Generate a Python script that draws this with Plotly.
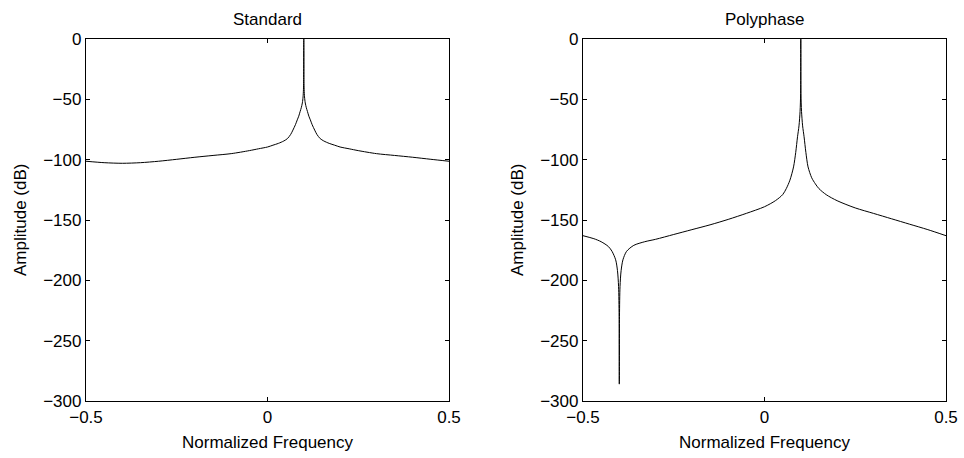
import plotly.graph_objects as go

# ---- data ----
freq_std = [-0.5, -0.45, -0.4, -0.35, -0.3, -0.25, -0.2, -0.15, -0.1, -0.05, -0.025,
            0.0, 0.015, 0.03, 0.045, 0.055, 0.064, 0.07, 0.077, 0.082, 0.086, 0.09,
            0.093, 0.096, 0.098, 0.099, 0.0995, 0.1,
            0.1005, 0.101, 0.102, 0.104, 0.107, 0.11, 0.114, 0.118, 0.123, 0.13,
            0.136, 0.145, 0.155, 0.17, 0.185, 0.2, 0.225, 0.25, 0.3, 0.35, 0.4,
            0.45, 0.5]
amp_std = [-101.3, -102.5, -103.0, -102.5, -101.3, -99.7, -98.0, -96.5, -95.0, -92.5, -91.0,
           -89.5, -88.0, -86.5, -84.5, -82.5, -79.0, -75.5, -71.0, -67.0, -64.0, -60.0,
           -57.0, -53.0, -48.0, -42.0, -35.0, 0.0,
           -35.0, -42.0, -48.0, -53.0, -57.0, -60.0, -64.0, -67.0, -71.0, -75.5,
           -79.0, -82.5, -84.5, -86.5, -88.0, -89.5, -91.0, -92.5, -95.0, -96.5, -98.0,
           -99.7, -101.3]

freq_poly = [-0.5, -0.47, -0.45, -0.43, -0.42, -0.41, -0.405, -0.402, -0.4005, -0.4,
             -0.3995, -0.398, -0.395, -0.39, -0.38, -0.36, -0.33, -0.3, -0.25, -0.2,
             -0.15, -0.1, -0.05, 0.0, 0.03, 0.05, 0.06, 0.07, 0.08, 0.086, 0.091,
             0.095, 0.098, 0.0995, 0.1, 0.1005, 0.102, 0.105, 0.109, 0.114, 0.12,
             0.13, 0.14, 0.15, 0.17, 0.2, 0.25, 0.3, 0.35, 0.4, 0.45, 0.5]
amp_poly = [-163.0, -165.5, -168.0, -172.0, -176.0, -183.0, -192.0, -205.0, -230.0, -286.0,
            -230.0, -205.0, -192.0, -183.0, -176.0, -171.0, -168.0, -166.0, -162.0, -158.0,
            -154.0, -149.5, -144.5, -139.0, -134.0, -129.0, -124.0, -117.0, -106.0, -94.0, -81.0,
            -72.0, -60.0, -45.0, 0.0, -45.0, -60.0, -72.0, -81.0, -94.0, -106.0,
            -115.0, -120.0, -124.0, -129.0, -134.0, -140.0, -144.5, -149.0, -153.5, -158.0, -163.0]

x_ticks = [-0.5, 0, 0.5]
x_labels = ["\u22120.5", "0", "0.5"]
y_ticks = [0, -50, -100, -150, -200, -250, -300]
y_labels = ["0", "\u221250", "\u2212100", "\u2212150", "\u2212200", "\u2212250", "\u2212300"]

titles = ["Standard", "Polyphase"]
xlabel = "Normalized Frequency"
ylabel = "Amplitude (dB)"

FONT = "Liberation Sans, Arial, Helvetica, sans-serif"
FS = 17

fig = go.Figure()
fig.add_trace(go.Scatter(x=freq_std, y=amp_std, mode="lines",
                         line=dict(color="black", width=1, shape="spline", smoothing=0.8),
                         xaxis="x", yaxis="y", showlegend=False))
fig.add_trace(go.Scatter(x=freq_poly, y=amp_poly, mode="lines",
                         line=dict(color="black", width=1, shape="spline", smoothing=0.8),
                         xaxis="x2", yaxis="y2", showlegend=False))

W, H = 964, 458
doms_x = [(86 / W, 449 / W), (583 / W, 946 / W)]
dom_y = ((H - 401) / H, (H - 39) / H)

ax_common = dict(showgrid=False, zeroline=False, showline=True, linecolor="black",
                 linewidth=1.3, mirror="allticks", ticks="inside", ticklen=4,
                 tickcolor="black", tickwidth=1, automargin=False,
                 tickfont=dict(family=FONT, size=FS, color="black"))

layout = dict(template="none", width=W, height=H,
              margin=dict(l=0, r=0, t=0, b=0, pad=0, autoexpand=False),
              paper_bgcolor="white", plot_bgcolor="white",
              font=dict(family=FONT, size=FS, color="black"))

for i, suffix in enumerate(["", "2"]):
    layout["xaxis" + suffix] = dict(ax_common, domain=doms_x[i], range=[-0.5, 0.5],
                                    tickvals=x_ticks, ticktext=x_labels,
                                    anchor="y" + suffix)
    layout["yaxis" + suffix] = dict(ax_common, domain=dom_y, range=[-300, 0],
                                    tickvals=y_ticks, ticktext=y_labels,
                                    anchor="x" + suffix)

fig.update_layout(**layout)

annots = []
for i in range(2):
    cx = (doms_x[i][0] + doms_x[i][1]) / 2
    annots.append(dict(text=titles[i], x=cx, y=(H - 19) / H, xref="paper", yref="paper",
                       showarrow=False, xanchor="center", yanchor="middle",
                       font=dict(family=FONT, size=FS, color="black")))
    annots.append(dict(text=xlabel, x=cx, y=(H - 442) / H, xref="paper", yref="paper",
                       showarrow=False, xanchor="center", yanchor="middle",
                       font=dict(family=FONT, size=FS, color="black")))
    annots.append(dict(text=ylabel, x=(doms_x[i][0] * W - 66) / W, y=(dom_y[0] + dom_y[1]) / 2,
                       xref="paper", yref="paper", textangle=-90,
                       showarrow=False, xanchor="center", yanchor="middle",
                       font=dict(family=FONT, size=FS, color="black")))
fig.update_layout(annotations=annots)

fig.write_html("out.html")
